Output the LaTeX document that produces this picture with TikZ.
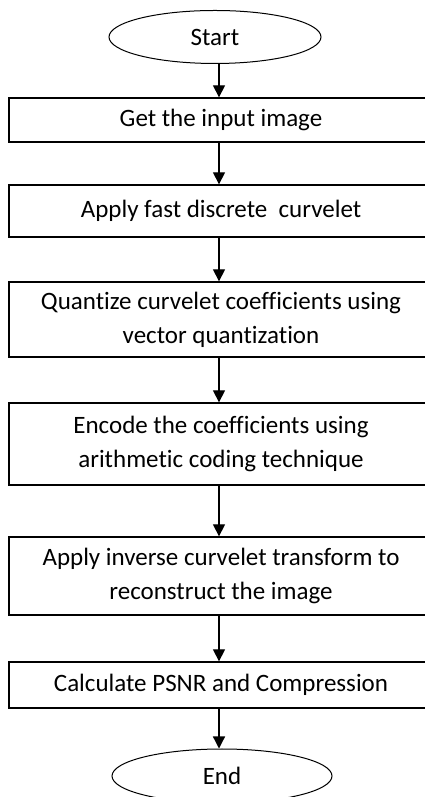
\documentclass[tikz,border=0pt]{standalone}
\usepackage{fontspec}
\setmainfont{Carlito}[Ligatures=NoCommon]
\usetikzlibrary{arrows.meta, shapes.geometric}

\begin{document}
\begin{tikzpicture}[x=1pt, y=1pt,
    every node/.style={font=\fontsize{25}{34}\selectfont},
    term/.style={ellipse, draw, line width=1pt, minimum width=212pt, minimum height=53pt, inner sep=0pt},
    proc/.style={rectangle, draw, line width=1.3pt, minimum width=424pt, align=center, inner sep=0pt},
    arr/.style={line width=1.3pt, -{Triangle[length=12pt, width=12pt]}}]
    \clip (0,0) rectangle (425,797);

    \node[term] (start) at (215, 760) {Start};
    \node[proc, minimum height=44pt] (input) at (221, 677) {Get the input image};
    \node[proc, minimum height=52pt] (fdct) at (221, 586) {Apply fast discrete~ curvelet};
    \node[proc, minimum height=75pt] (quant) at (221, 477.5) {Quantize curvelet coefficients using\\vector quantization};
    \node[proc, minimum height=82pt] (encode) at (221, 353) {Encode the coefficients using\\arithmetic coding technique};
    \node[proc, minimum height=78pt] (inverse) at (221, 221) {Apply inverse curvelet transform to\\reconstruct the image};
    \node[proc, minimum height=46pt] (psnr) at (221, 112) {Calculate PSNR and Compression};
    \node[term, minimum width=220pt, minimum height=54pt] (end) at (222, 21) {End};

    % arrows between steps
    \draw[arr] (start.south -| 219, 0) -- (input.north -| 219, 0);
    \draw[arr] (input.south -| 219, 0) -- (fdct.north -| 219, 0);
    \draw[arr] (fdct.south -| 219, 0) -- (quant.north -| 219, 0);
    \draw[arr] (quant.south -| 219, 0) -- (encode.north -| 219, 0);
    \draw[arr] (encode.south -| 219, 0) -- (inverse.north -| 219, 0);
    \draw[arr] (inverse.south -| 219, 0) -- (psnr.north -| 219, 0);
    \draw[arr] (psnr.south -| 219, 0) -- (end.north -| 219, 0);
\end{tikzpicture}
\end{document}
